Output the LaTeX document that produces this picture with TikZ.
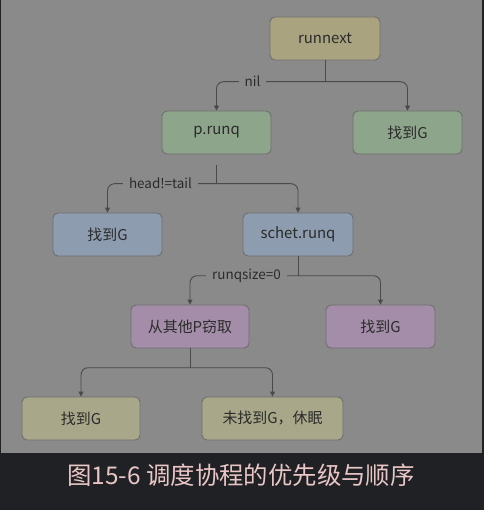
\documentclass[tikz,border=0pt]{standalone}
\usepackage{fontspec}
\setmainfont{Noto Sans CJK SC}
\usetikzlibrary{arrows.meta}
\definecolor{bgray}{HTML}{8A8A8A}
\definecolor{dband}{HTML}{1F2124}
\definecolor{linec}{HTML}{4A4A4A}
\definecolor{bordc}{HTML}{6E6E6E}
\definecolor{txtc}{HTML}{2B2B2B}
\definecolor{olivef}{HTML}{A9A47F}
\definecolor{greenf}{HTML}{8DA58A}
\definecolor{bluef}{HTML}{8D9CAE}
\definecolor{purplef}{HTML}{A48DA8}
\definecolor{yellowf}{HTML}{A8A789}
\definecolor{capc}{HTML}{EAC6C6}
\tikzset{
  box/.style={draw=bordc, line width=0.9bp, rounded corners=5bp, minimum height=43bp,
    inner sep=0pt, text=txtc, font=\fontsize{15}{17}\selectfont},
  conn/.style={draw=linec, line width=0.9bp},
  arr/.style={conn, rounded corners=7bp, -{Triangle[width=5bp,length=5bp]}},
  lbl/.style={fill=bgray, inner xsep=6bp, inner ysep=2bp, text=txtc, font=\fontsize{13.5}{15}\selectfont},
}
\begin{document}
\begin{tikzpicture}[x=1bp,y=-1bp]
\useasboundingbox (0,0) rectangle (484,510);
\fill[dband] (0,0) rectangle (484,510);
\fill[bgray] (1,0) rectangle (482,453);
% nodes
\node[box, fill=olivef, minimum width=110bp] (runnext) at (325,38.5) {runnext};
\node[box, fill=greenf, minimum width=109bp] (prunq) at (216.5,132.5) {p.runq};
\node[box, fill=greenf, minimum width=109bp] (g1) at (407.5,132.5) {找到G};
\node[box, fill=bluef, minimum width=109bp] (g2) at (107.5,234.5) {找到G};
\node[box, fill=bluef, minimum width=110bp] (schet) at (298,234.5) {schet.runq};
\node[box, fill=purplef, minimum width=118bp] (steal) at (190,326.5) {从其他P窃取};
\node[box, fill=purplef, minimum width=109bp] (g3) at (380.5,326.5) {找到G};
\node[box, fill=yellowf, minimum width=118bp] (g4) at (81,418.5) {找到G};
\node[box, fill=yellowf, minimum width=141bp] (sleep) at (272.5,418.5) {未找到G，休眠};
% junctions
\coordinate (j1) at (325,81.7);
\coordinate (s2) at (216.5,165);
\coordinate (j2) at (216.5,183.7);
\coordinate (j3) at (298,275.7);
\coordinate (j4) at (190,367.7);
% connectors
\draw[conn] (runnext.south) -- (j1);
\draw[arr] (j1) -| (prunq.north);
\draw[arr] (j1) -| (g1.north);
\node[lbl] (lnil) at (252.5,81.7) {nil};
\draw[conn] (s2) -- (j2);
\draw[arr] (j2) -| (g2.north);
\draw[arr] (j2) -| (schet.north);
\node[lbl] (lht) at (160.5,183.7) {head!=tail};
\draw[conn] (schet.south) -- (j3);
\draw[arr] (j3) -| (steal.north);
\draw[arr] (j3) -| (g3.north);
\node[lbl] (lrq) at (246.5,275.7) {runqsize=0};
\draw[conn] (steal.south) -- (j4);
\draw[arr] (j4) -| (g4.north);
\draw[arr] (j4) -| (sleep.north);
% caption
\node[text=capc, font=\fontsize{24.5}{27}\selectfont, inner sep=0pt] (cap) at (241,475.5) {图15-6 调度协程的优先级与顺序};
\end{tikzpicture}
\end{document}
